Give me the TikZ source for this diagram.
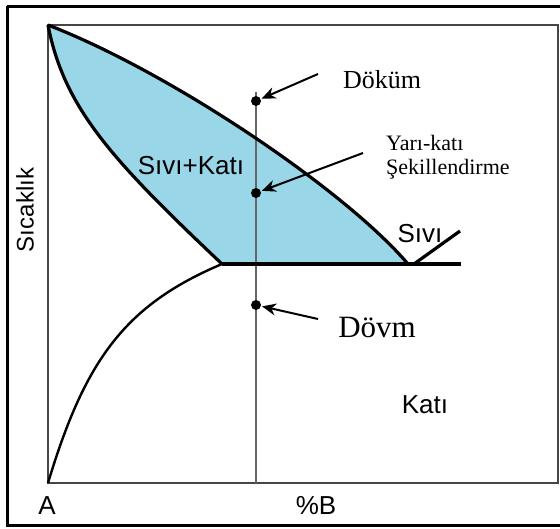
\documentclass[tikz,border=0pt]{standalone}
\usepackage{fontspec}
\setmainfont{Liberation Serif}
\newfontfamily\sansf{Liberation Sans}
\usetikzlibrary{arrows.meta}
\definecolor{fillblue}{RGB}{152,214,232}
\definecolor{axisgray}{RGB}{70,70,70}
\tikzset{
  curve/.style={line width=3.2pt, black, line join=round},
  axisline/.style={line width=2.2pt, axisgray},
  vline/.style={line width=1.8pt, black!60},
  dot/.style={circle, fill=black, inner sep=0pt, minimum size=10pt},
  arr/.style={line width=2pt, -{Stealth[length=14pt,width=12pt]}, shorten >=1pt},
  sanslab/.style={font=\sansf\fontsize{26}{28}\selectfont, inner sep=0pt},
  seriflab/.style={font=\fontsize{26}{28}\selectfont, inner sep=0pt},
}
\begin{document}
\begin{tikzpicture}[x=1pt,y=-1pt]
\useasboundingbox (0,0) rectangle (560,528);
\fill[white] (0,0) rectangle (560,528);
% outer frame
\draw[line width=3pt, black] (7,6) -- (565,6);
\draw[line width=3pt, black] (7,6) -- (7,525) -- (565,525);
% key points
\coordinate (top) at (48,25);
\coordinate (eut) at (222,264);
\coordinate (liqend) at (408,264);
\coordinate (orig) at (48,483);
% fill region
\fill[fillblue] (top) .. controls (170,72) and (345,190) .. (liqend)
  -- (eut) .. controls (112,160) and (64,108) .. (top) -- cycle;
% inner plot box
\draw[axisline] (48,25) rectangle (558,483);
% vertical composition line
\coordinate (vtop) at (256,92);
\coordinate (vbot) at (256,483);
\draw[vline] (vtop) -- (vbot);
% liquidus
\draw[curve] (top) .. controls (170,72) and (345,190) .. (liqend);
% solidus
\draw[curve] (top) .. controls (64,108) and (112,160) .. (eut);
% solvus
\draw[line width=2.4pt, black] (orig) .. controls (85,360) and (125,305) .. (eut);
% eutectic line
\coordinate (eutR) at (461,264);
\draw[curve] (eut) -- (eutR);
% liquid line B side
\coordinate (s1) at (414,264);
\coordinate (s2) at (460,231);
\draw[curve] (s1) -- (s2);
% dots
\node[dot] (d1) at (256,101) {};
\node[dot] (d2) at (256,193) {};
\node[dot] (d3) at (256,305) {};
% arrows
\coordinate (a1) at (318,74);
\coordinate (a2) at (363,153);
\coordinate (a3) at (318,319);
\draw[arr] (a1) -- (d1);
\draw[arr] (a2) -- (d2);
\draw[arr] (a3) -- (d3);
% labels
\node[sanslab] (sk) at (191,166) {Sıvı+Katı};
\node[sanslab] (sv) at (420,234) {Sıvı};
\node[sanslab] (kt) at (425,405) {Katı};
\node[sanslab] (la) at (47,506) {A};
\node[sanslab] (lb) at (316,506) {\%B};
\node[sanslab, font=\sansf\fontsize{24}{26}\selectfont, rotate=90] (sc) at (25,210) {Sıcaklık};
\node[seriflab] (dk) at (382,80) {Döküm};
\node[font=\fontsize{22}{24}\selectfont, inner sep=0pt, align=left, anchor=west] (yk) at (386,157) {Yarı-katı\\Şekillendirme};
\node[font=\fontsize{31}{33}\selectfont, inner sep=0pt] (dv) at (377,327) {Dövm};
\end{tikzpicture}
\end{document}
